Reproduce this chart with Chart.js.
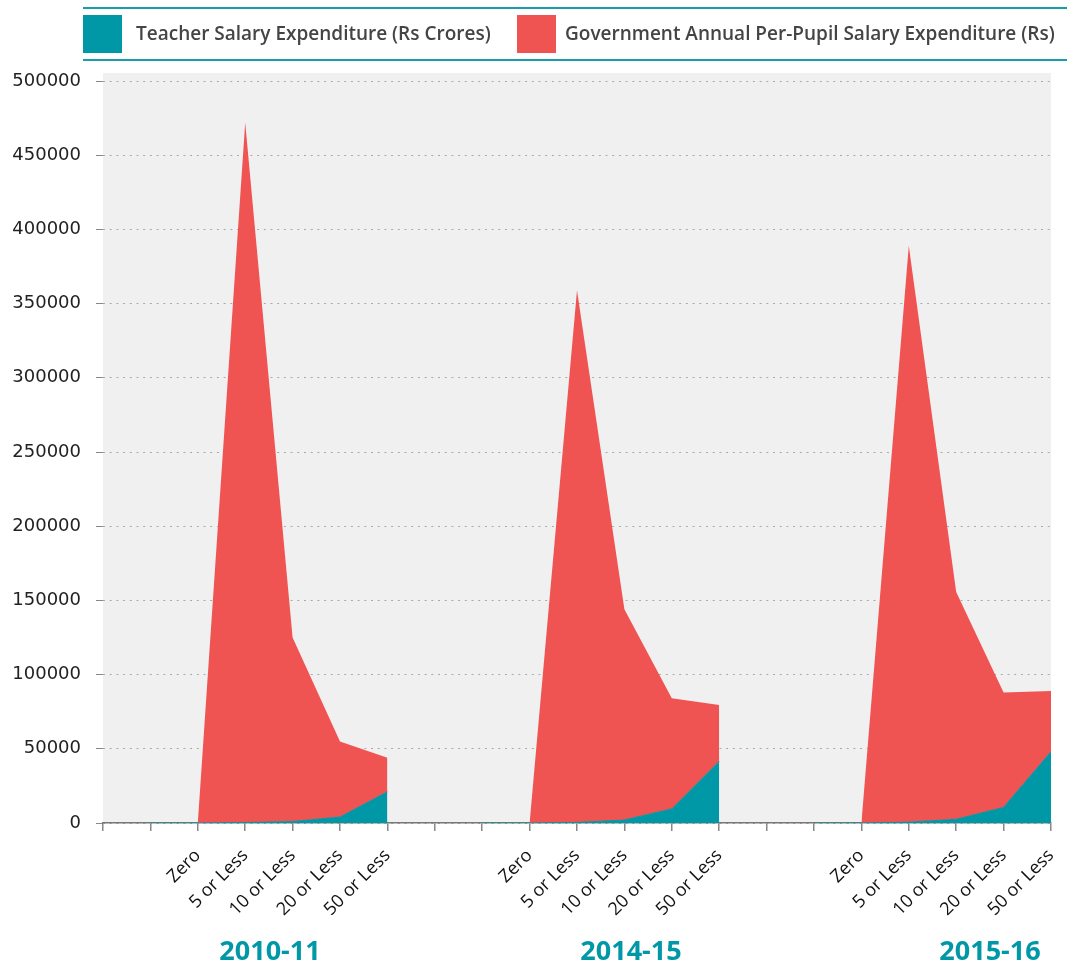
<!DOCTYPE html>
<html>
<head>
<meta charset="utf-8">
<script src="https://cdn.jsdelivr.net/npm/chart.js@4/dist/chart.umd.min.js"></script>
<style>
    body { margin: 0; background: #fff; }
    #wrap { position: relative; width: 1067px; height: 967px; }
    #legend {
        position: absolute; left: 83px; top: 7px; width: 984px; height: 50px;
        border-top: 2px solid #1a9dab; border-bottom: 2px solid #1a9dab;
        font-family: "Open Sans", sans-serif; font-weight: 600; font-size: 19px; color: #444;
    }
    .item { position: absolute; top: 6px; height: 38px; line-height: 38px; white-space: nowrap; }
    .box { position: absolute; left: 0; top: 0; width: 39px; height: 38px; }
    .lbl { position: absolute; top: -1px; }
</style>
</head>
<body>
<div id="wrap">
    <canvas id="salaryChart" width="1067" height="967"></canvas>
    <div id="legend"></div>
</div>
<script>
// categories (blank slots separate the three years)
const categories = ['', '', 'Zero', '5 or Less', '10 or Less', '20 or Less', '50 or Less',
                    '', '', 'Zero', '5 or Less', '10 or Less', '20 or Less', '50 or Less',
                    '', '', 'Zero', '5 or Less', '10 or Less', '20 or Less', '50 or Less'];
const years = ['2010-11', '2014-15', '2015-16'];

// stacked area values
const teacherSalary = [null, 0, 0, 300, 1000, 4000, 21000,
                       null, 0, 0, 400, 2000, 9500, 41500,
                       null, 0, 0, 600, 2500, 10500, 48000];
const perPupil = [null, null, 0, 471700, 124000, 51000, 23000,
                  null, null, 0, 358600, 142000, 74500, 38000,
                  null, null, 0, 388400, 153200, 77500, 41000];

const seriesNames = ['Teacher Salary Expenditure (Rs Crores)', 'Government Annual Per-Pupil Salary Expenditure (Rs)'];
const TEAL = '#0098a6';
const RED = '#f05452';

// html legend
const legend = document.getElementById('legend');
legend.innerHTML =
    '<div class="item" style="left:0"><div class="box" style="background:' + TEAL + '"></div><span class="lbl" style="left:53px">' + seriesNames[0] + '</span></div>' +
    '<div class="item" style="left:434px"><div class="box" style="background:' + RED + '"></div><span class="lbl" style="left:48px">' + seriesNames[1] + '</span></div>';

// grey plot background
const plotBg = {
    id: 'plotBg',
    beforeDraw(chart) {
        const { ctx, chartArea } = chart;
        ctx.save();
        ctx.fillStyle = '#f0f0f0';
        ctx.fillRect(chartArea.left, chartArea.top - 8, chartArea.right - chartArea.left, chartArea.bottom - chartArea.top + 8);
        ctx.restore();
    }
};

// year labels under the axis
const yearX = [270, 631, 990];
const yearLabels = {
    id: 'yearLabels',
    afterDraw(chart) {
        const ctx = chart.ctx;
        ctx.save();
        ctx.fillStyle = TEAL;
        ctx.font = 'bold 27px "Open Sans"';
        ctx.textAlign = 'center';
        ctx.textBaseline = 'middle';
        years.forEach((y, i) => ctx.fillText(y, yearX[i], 952));
        ctx.restore();
    }
};

new Chart(document.getElementById('salaryChart').getContext('2d'), {
    type: 'line',
    data: {
        labels: categories,
        datasets: [
            {
                label: seriesNames[0],
                data: teacherSalary,
                backgroundColor: TEAL,
                borderColor: TEAL,
                borderWidth: 1,
                fill: 'origin',
                pointRadius: 0,
                tension: 0
            },
            {
                label: seriesNames[1],
                data: perPupil,
                backgroundColor: RED,
                borderColor: RED,
                borderWidth: 0,
                fill: '-1',
                pointRadius: 0,
                tension: 0
            }
        ]
    },
    options: {
        responsive: false,
        animation: false,
        layout: { padding: { top: 81, left: 12, right: 16, bottom: 34 } },
        plugins: {
            legend: { display: false },
            tooltip: { enabled: false }
        },
        scales: {
            x: {
                offset: false,
                grid: { drawOnChartArea: false, drawTicks: true, tickLength: 8, color: '#888', lineWidth: 1.5 },
                border: { display: true, color: '#777', width: 1.5 },
                ticks: {
                    autoSkip: false, maxRotation: 45, minRotation: 45, padding: 14,
                    color: '#111', font: { family: '"Open Sans"', size: 18 }
                },
                afterFit(scale) {
                    scale.height = 110;
                    scale.paddingLeft = 0;
                    scale.paddingRight = 0;
                }
            },
            y: {
                stacked: true,
                min: 0, max: 500000,
                grid: { color: '#aaa', tickColor: '#888', tickLength: 7, tickBorderDash: [], lineWidth: 1 },
                border: { display: false, dash: [2, 4.7] },
                ticks: {
                    stepSize: 50000, padding: 15, color: '#222',
                    font: { family: '"DejaVu Sans"', size: 18 },
                    callback: v => String(v)
                },
                afterFit(scale) { scale.width = 91; }
            }
        }
    },
    plugins: [plotBg, yearLabels]
});
</script>
</body>
</html>
